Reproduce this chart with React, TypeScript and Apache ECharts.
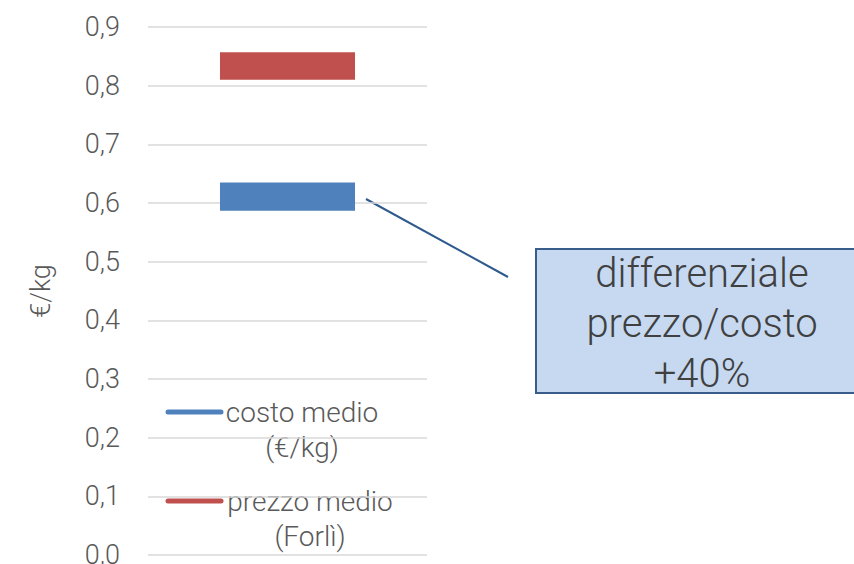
import React, { useEffect, useRef } from "react";
import * as echarts from "echarts";

const categories = [""];
const costoLow = [0.587];
const costoHigh = [0.635];
const prezzoLow = [0.81];
const prezzoHigh = [0.857];
const yTicks = [0, 0.1, 0.2, 0.3, 0.4, 0.5, 0.6, 0.7, 0.8, 0.9];
const legendNames = ["costo medio\n(€/kg)", "prezzo medio\n(Forlì)"];
const calloutText = "differenziale\nprezzo/costo\n+40%";
const axisName = "€/kg";

const FONT = "Roboto, 'Open Sans', sans-serif";
const W = 300;

function rangeSeries(name: string, low: number[], high: number[], color: string) {
  return {
    type: "custom",
    name,
    data: low.map((l, i) => [i, l, high[i]]),
    encode: { x: 0, y: [1, 2] },
    renderItem: (params: any, api: any) => {
      const x = api.value(0);
      const p1 = api.coord([x, api.value(1)]);
      const p2 = api.coord([x, api.value(2)]);
      const w = api.size([1, 0])[0] * 0.484;
      return {
        type: "rect",
        shape: { x: p1[0] - w / 2, y: p2[1], width: w, height: p1[1] - p2[1] },
        style: { fill: color },
      };
    },
  };
}

export default function App() {
  const ref = useRef<HTMLDivElement>(null);
  useEffect(() => {
    if (!ref.current) return;
    const chart = echarts.init(ref.current, null, { renderer: "svg" });
    chart.setOption({
      animation: false,
      backgroundColor: "#ffffff",
      grid: {
        left: 148,
        right: 427,
        top: 27,
        bottom: 9,
        containLabel: false,
        outerBoundsMode: "none",
      },
      xAxis: {
        type: "category",
        data: categories,
        axisLine: { show: false },
        axisTick: { show: false },
        axisLabel: { show: false },
      },
      yAxis: {
        type: "value",
        min: yTicks[0],
        max: yTicks[yTicks.length - 1],
        interval: 0.1,
        name: axisName,
        nameLocation: "middle",
        nameGap: 94,
        nameRotate: 90,
        nameTextStyle: { color: "#595959", fontSize: 27, fontFamily: FONT, fontWeight: W },
        axisLine: { show: false },
        axisTick: { show: false },
        axisLabel: {
          color: "#595959",
          fontSize: 27,
          fontFamily: FONT,
          fontWeight: W,
          margin: 28,
          formatter: (v: number) => v.toFixed(1).replace(".", ","),
        },
        splitLine: { lineStyle: { color: "#d9d9d9", width: 1.5 } },
      },
      series: [
        rangeSeries(legendNames[0], costoLow, costoHigh, "#4f81bd"),
        rangeSeries(legendNames[1], prezzoLow, prezzoHigh, "#c0504d"),
      ],
      graphic: [
        {
          type: "line",
          shape: { x1: 168, y1: 412, x2: 221, y2: 412 },
          style: { stroke: "#4f81bd", lineWidth: 5, lineCap: "round" },
        },
        {
          type: "text",
          x: 302,
          y: 430,
          style: {
            text: legendNames[0],
            fill: "#595959",
            fontSize: 28,
            fontFamily: FONT,
            fontWeight: W,
            align: "center",
            verticalAlign: "middle",
            lineHeight: 35,
          },
        },
        {
          type: "line",
          shape: { x1: 168, y1: 501, x2: 221, y2: 501 },
          style: { stroke: "#c0504d", lineWidth: 5, lineCap: "round" },
        },
        {
          type: "text",
          x: 310,
          y: 519,
          style: {
            text: legendNames[1],
            fill: "#595959",
            fontSize: 28,
            fontFamily: FONT,
            fontWeight: W,
            align: "center",
            verticalAlign: "middle",
            lineHeight: 35,
          },
        },
        {
          type: "line",
          shape: { x1: 366, y1: 199, x2: 508, y2: 277 },
          style: { stroke: "#2f5a8e", lineWidth: 2 },
        },
        {
          type: "rect",
          shape: { x: 536, y: 249, width: 340, height: 144 },
          style: { fill: "#c6d9f1", stroke: "#385d8a", lineWidth: 2 },
        },
        {
          type: "text",
          x: 702,
          y: 323,
          style: {
            text: calloutText,
            fill: "#404040",
            fontSize: 40,
            fontFamily: FONT,
            fontWeight: W,
            align: "center",
            verticalAlign: "middle",
            lineHeight: 50,
          },
        },
      ],
    });
    return () => chart.dispose();
  }, []);
  return (
    <div
      ref={ref}
      style={{ position: "fixed", left: 0, top: 0, width: 854, height: 564 }}
    />
  );
}
